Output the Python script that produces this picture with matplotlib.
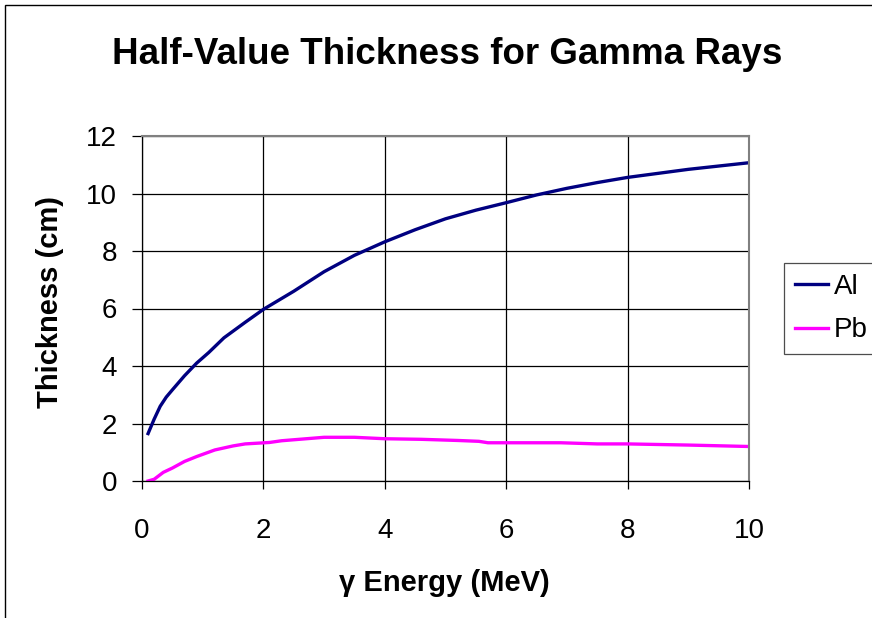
import matplotlib
matplotlib.use("Agg")
import matplotlib.pyplot as plt
from matplotlib.patches import Rectangle

plt.rcParams['font.family'] = ['Liberation Sans', 'DejaVu Sans']

# Data
al_energy = [0.1, 0.2, 0.3, 0.4, 0.5, 0.7, 0.9, 1.1, 1.35, 1.7, 2.0, 2.5, 3.0, 3.5, 4.0, 4.5, 5.0, 5.5, 6.0, 6.5, 7.0, 7.5, 8.0, 9.0, 10.0]
al_thick = [1.65, 2.15, 2.6, 2.92, 3.17, 3.66, 4.1, 4.47, 4.98, 5.52, 5.97, 6.6, 7.28, 7.85, 8.32, 8.74, 9.12, 9.42, 9.68, 9.95, 10.18, 10.38, 10.56, 10.84, 11.07]
pb_energy = [0.1, 0.2, 0.35, 0.5, 0.7, 0.9, 1.2, 1.5, 1.7, 2.1, 2.3, 3.0, 3.5, 4.0, 4.6, 5.2, 5.55, 5.7, 6.9, 7.5, 8.0, 9.0, 10.0]
pb_thick = [0.0, 0.06, 0.3, 0.45, 0.68, 0.85, 1.08, 1.22, 1.29, 1.34, 1.4, 1.52, 1.52, 1.47, 1.45, 1.41, 1.38, 1.33, 1.33, 1.29, 1.29, 1.25, 1.2]
x_ticks = [0, 2, 4, 6, 8, 10]
y_ticks = [0, 2, 4, 6, 8, 10, 12]

W, H = 872, 618
fig = plt.figure(figsize=(W / 100, H / 100), dpi=100)

# outer chart border (left and top visible)
fig.patches.append(Rectangle((5 / W, -0.1), 2.0, (H - 5) / H + 0.1, transform=fig.transFigure,
                             fill=False, edgecolor='black', linewidth=1.0))

ax = fig.add_axes([142 / W, 1 - 481 / H, (749 - 142) / W, (481 - 136) / H])
ax.plot(al_energy, al_thick, color='#000080', linewidth=2.4, label='Al')
ax.plot(pb_energy, pb_thick, color='#FF00FF', linewidth=2.4, label='Pb')

ax.set_xlim(0, 10)
ax.set_ylim(0, 12)
ax.set_xticks(x_ticks)
ax.set_yticks(y_ticks)
ax.grid(True, color='black', linewidth=0.9)
ax.tick_params(axis='both', labelsize=20, width=0.9, direction='out', color='black')
ax.tick_params(axis='x', length=6, pad=21)
ax.tick_params(axis='y', length=7, pad=11)
for side in ['top', 'right']:
    ax.spines[side].set_color('#808080')
    ax.spines[side].set_linewidth(1.5)
for side in ['left', 'bottom']:
    ax.spines[side].set_color('black')
    ax.spines[side].set_linewidth(0.9)

fig.text(447 / W, 1 - 55 / H, 'Half-Value Thickness for Gamma Rays', ha='center', va='center',
         fontsize=26.5, fontweight='bold')
fig.text(444 / W, 1 - 583 / H, 'γ Energy (MeV)', ha='center', va='center',
         fontsize=21, fontweight='bold')
fig.text(50 / W, 1 - 302 / H, 'Thickness (cm)', ha='center', va='center', rotation=90,
         fontsize=21, fontweight='bold')

leg = fig.legend(loc='upper left', bbox_to_anchor=(784 / W, 1 - 263 / H), fontsize=20,
                 frameon=True, fancybox=False, edgecolor='#202020', handlelength=1.2,
                 handletextpad=0.2, borderpad=0.4, labelspacing=0.62, borderaxespad=0)
leg.get_frame().set_linewidth(0.9)

fig.savefig('out.png', dpi=100)
